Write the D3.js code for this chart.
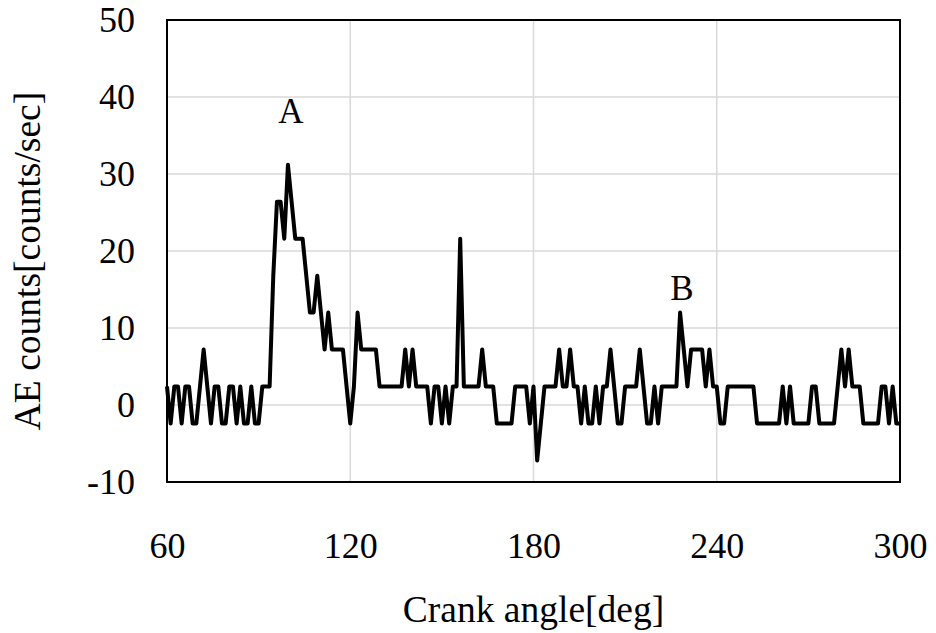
<!DOCTYPE html>
<html>
<head>
<meta charset="utf-8">
<script src="https://cdn.jsdelivr.net/npm/d3@7"></script>
<style>
  body { margin: 0; background: #fff; }
  .canvas text { font-family: "Liberation Serif", "Times New Roman", serif; fill: #000; }
</style>
</head>
<body>
<div class="canvas"></div>
<script>
// data: crank angle step and AE counts
const angleStart = 60;
const angleStep = 1.2;
const aeCounts = [
  2.4, -2.4, 2.4, 2.4, -2.4, 2.4, 2.4, -2.4, -2.4, 2.4,
  7.2, 2.4, -2.4, 2.4, 2.4, -2.4, -2.4, 2.4, 2.4, -2.4,
  2.4, -2.4, -2.4, 2.4, -2.4, -2.4, 2.4, 2.4, 2.4, 16.8,
  26.4, 26.4, 21.6, 31.2, 26.4, 21.6, 21.6, 21.6, 16.8, 12,
  12, 16.8, 12, 7.2, 12, 7.2, 7.2, 7.2, 7.2, 2.4,
  -2.4, 2.4, 12, 7.2, 7.2, 7.2, 7.2, 7.2, 2.4, 2.4,
  2.4, 2.4, 2.4, 2.4, 2.4, 7.2, 2.4, 7.2, 2.4, 2.4,
  2.4, 2.4, -2.4, 2.4, 2.4, -2.4, 2.4, -2.4, 2.4, 2.4,
  21.6, 2.4, 2.4, 2.4, 2.4, 2.4, 7.2, 2.4, 2.4, 2.4,
  -2.4, -2.4, -2.4, -2.4, -2.4, 2.4, 2.4, 2.4, 2.4, -2.4,
  2.4, -7.2, -2.4, 2.4, 2.4, 2.4, 2.4, 7.2, 2.4, 2.4,
  7.2, 2.4, 2.4, -2.4, 2.4, -2.4, -2.4, 2.4, -2.4, 2.4,
  2.4, 7.2, 2.4, -2.4, -2.4, 2.4, 2.4, 2.4, 2.4, 7.2,
  2.4, -2.4, -2.4, 2.4, -2.4, 2.4, 2.4, 2.4, 2.4, 2.4,
  12, 7.2, 2.4, 7.2, 7.2, 7.2, 7.2, 2.4, 7.2, 2.4,
  2.4, -2.4, -2.4, 2.4, 2.4, 2.4, 2.4, 2.4, 2.4, 2.4,
  2.4, -2.4, -2.4, -2.4, -2.4, -2.4, -2.4, -2.4, 2.4, -2.4,
  2.4, -2.4, -2.4, -2.4, -2.4, -2.4, 2.4, 2.4, -2.4, -2.4,
  -2.4, -2.4, -2.4, 2.4, 7.2, 2.4, 7.2, 2.4, 2.4, 2.4,
  -2.4, -2.4, -2.4, -2.4, -2.4, 2.4, 2.4, -2.4, 2.4, -2.4,
  -2.4
];
const xTicks = [60, 120, 180, 240, 300];
const yTicks = [-10, 0, 10, 20, 30, 40, 50];
const peakLabels = [
  { text: 'A', angle: 100.6, value: 36.6 },
  { text: 'B', angle: 228.6, value: 13.6 }
];

const data = aeCounts.map((v, i) => ({ angle: angleStart + i * angleStep, value: v }));

// svg + margins
const width = 936, height = 633;
const margin = { top: 20, right: 36, bottom: 151, left: 167 };
const graphWidth = width - margin.left - margin.right;
const graphHeight = height - margin.top - margin.bottom;

const svg = d3.select('.canvas')
  .append('svg')
  .attr('width', width)
  .attr('height', height);

const graph = svg.append('g')
  .attr('transform', `translate(${margin.left},${margin.top})`);

// scales
const x = d3.scaleLinear().domain([60, 300]).range([0, graphWidth]);
const y = d3.scaleLinear().domain([-10, 50]).range([graphHeight, 0]);

// gridlines
graph.append('g')
  .selectAll('line.vgrid')
  .data(xTicks.slice(1, -1))
  .enter().append('line')
  .attr('x1', d => x(d)).attr('x2', d => x(d))
  .attr('y1', 0).attr('y2', graphHeight)
  .attr('stroke', '#d9d9d9').attr('stroke-width', 1.5);

graph.append('g')
  .selectAll('line.hgrid')
  .data(yTicks.slice(1, -1))
  .enter().append('line')
  .attr('x1', 0).attr('x2', graphWidth)
  .attr('y1', d => y(d)).attr('y2', d => y(d))
  .attr('stroke', '#d9d9d9').attr('stroke-width', 1.5);

// axes (labels only, no tick marks) - plain hyphen for negatives
const xAxis = d3.axisBottom(x).tickValues(xTicks).tickSize(0).tickPadding(50)
  .tickFormat(d => String(d));
const yAxis = d3.axisLeft(y).tickValues(yTicks).tickSize(0).tickPadding(32)
  .tickFormat(d => String(d));

const xAxisGroup = graph.append('g')
  .attr('transform', `translate(0, ${graphHeight})`)
  .call(xAxis);
const yAxisGroup = graph.append('g').call(yAxis);

[xAxisGroup, yAxisGroup].forEach(g => {
  g.select('.domain').remove();
  g.selectAll('text')
    .attr('font-family', '"Liberation Serif", "Times New Roman", serif')
    .attr('font-size', 36)
    .attr('fill', '#000');
});

// the AE line
const line = d3.line()
  .x(d => x(d.angle))
  .y(d => y(d.value));

graph.append('path')
  .datum(data)
  .attr('d', line)
  .attr('fill', 'none')
  .attr('stroke', '#000')
  .attr('stroke-width', 4)
  .attr('stroke-linejoin', 'round');

// plot frame
graph.append('rect')
  .attr('width', graphWidth)
  .attr('height', graphHeight)
  .attr('fill', 'none')
  .attr('stroke', '#000')
  .attr('stroke-width', 2);

// peak labels
graph.selectAll('text.peak')
  .data(peakLabels)
  .enter().append('text')
  .attr('class', 'peak')
  .attr('x', d => x(d.angle))
  .attr('y', d => y(d.value))
  .attr('text-anchor', 'middle')
  .attr('font-size', 35)
  .text(d => d.text);

// axis titles
svg.append('text')
  .attr('x', margin.left + graphWidth / 2)
  .attr('y', 622)
  .attr('text-anchor', 'middle')
  .attr('font-size', 37.5)
  .text('Crank angle[deg]');

svg.append('text')
  .attr('transform', `translate(40, ${margin.top + graphHeight / 2 + 10}) rotate(-90)`)
  .attr('text-anchor', 'middle')
  .attr('font-size', 37.5)
  .text('AE counts[counts/sec]');
</script>
</body>
</html>
